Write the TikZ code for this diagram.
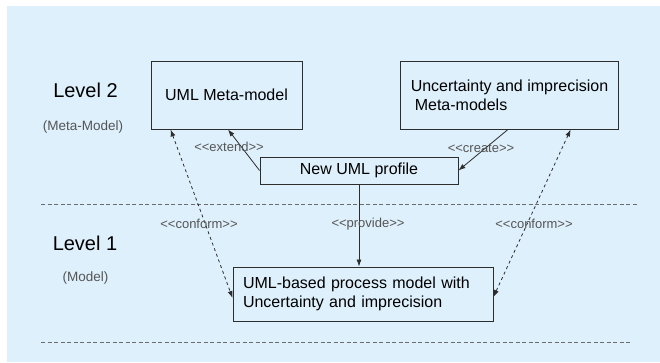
\documentclass[tikz,border=0pt]{standalone}
\usepackage{fontspec}
\setmainfont{Liberation Sans}
\usetikzlibrary{arrows.meta,calc}
\definecolor{bgblue}{RGB}{222,240,251}
\definecolor{boxline}{RGB}{45,45,45}
\definecolor{labgray}{RGB}{85,85,85}
\newcommand{\stereo}[1]{<{}<#1>{}>}
\tikzset{
  box/.style={draw=boxline, line width=0.9pt, inner xsep=10pt, inner ysep=0pt,
    font=\fontsize{16}{19}\selectfont, text=black},
  lab/.style={font=\fontsize{13}{15}\selectfont, text=labgray, inner sep=0pt},
  lvl/.style={font=\fontsize{20}{24}\selectfont, text=black, inner sep=0pt},
  sublvl/.style={font=\fontsize{13.5}{16}\selectfont, text=labgray, inner sep=0pt},
  solidarr/.style={draw=boxline, line width=0.8pt, -{Latex[length=7pt,width=5pt]}},
  confarr/.style={draw=boxline, line width=0.8pt, dash pattern=on 3pt off 3pt,
    {Latex[length=7pt,width=5pt]}-{Latex[length=7pt,width=5pt]}},
  sep/.style={draw=gray!85!black, line width=0.8pt, dash pattern=on 4pt off 2.5pt}
}
\begin{document}
\begin{tikzpicture}[x=1pt,y=-1pt]
\useasboundingbox (0,0) rectangle (660,362);
\fill[white] (0,0) rectangle (660,362);
\fill[bgblue] (7,6) rectangle (660,362);

% level texts
\node[lvl] (lv2) at (85.5,90) {Level 2};
\node[sublvl] (lv2s) at (83,127) {(Meta-Model)};
\node[lvl] (lv1) at (85,243) {Level 1};
\node[sublvl] (lv1s) at (85.5,278) {(Model)};

% separators
\coordinate (s1a) at (41,204);
\coordinate (s1b) at (637,204);
\coordinate (s2a) at (41,342);
\coordinate (s2b) at (630,342);
\draw[sep] (s1a) -- (s1b);
\draw[sep] (s2a) -- (s2b);

% boxes
\node[box, minimum width=151pt, minimum height=68pt] (uml) at (226.5,95) {UML Meta-model};
\node[box, minimum width=213pt, minimum height=68pt, align=left] (unc) at (509.5,95)
  {Uncertainty and imprecision\\\hspace*{4pt}Meta-models};
\node[box, minimum width=198pt, minimum height=27pt] (prof) at (359,170.5) {New UML profile};
\node[box, minimum width=260pt, minimum height=54pt, text width=240pt, align=left] (proc) at (363,294)
  {UML-based process model with\\Uncertainty and imprecision};

% connectors
\draw[solidarr] (prof.west) -- ([xshift=1.5pt]uml.south);
\draw[solidarr] ([xshift=-1.5pt]unc.south) -- (prof.east);
\draw[solidarr] (prof.south) -- (prof.south |- proc.north);
\draw[confarr] ([xshift=20pt]uml.south west) -- ([yshift=-4pt]proc.west);
\draw[confarr] ([xshift=-48pt]unc.south east) -- ([yshift=-3pt]proc.east);

% labels
\node[lab] (lext) at (229,147) {\stereo{extend}};
\node[lab] (lcre) at (481,148) {\stereo{create}};
\node[lab] (lpro) at (368,224) {\stereo{provide}};
\node[lab] (lcl) at (199,224) {\stereo{conform}};
\node[lab] (lcr) at (534,224) {\stereo{conform}};
\end{tikzpicture}
\end{document}
